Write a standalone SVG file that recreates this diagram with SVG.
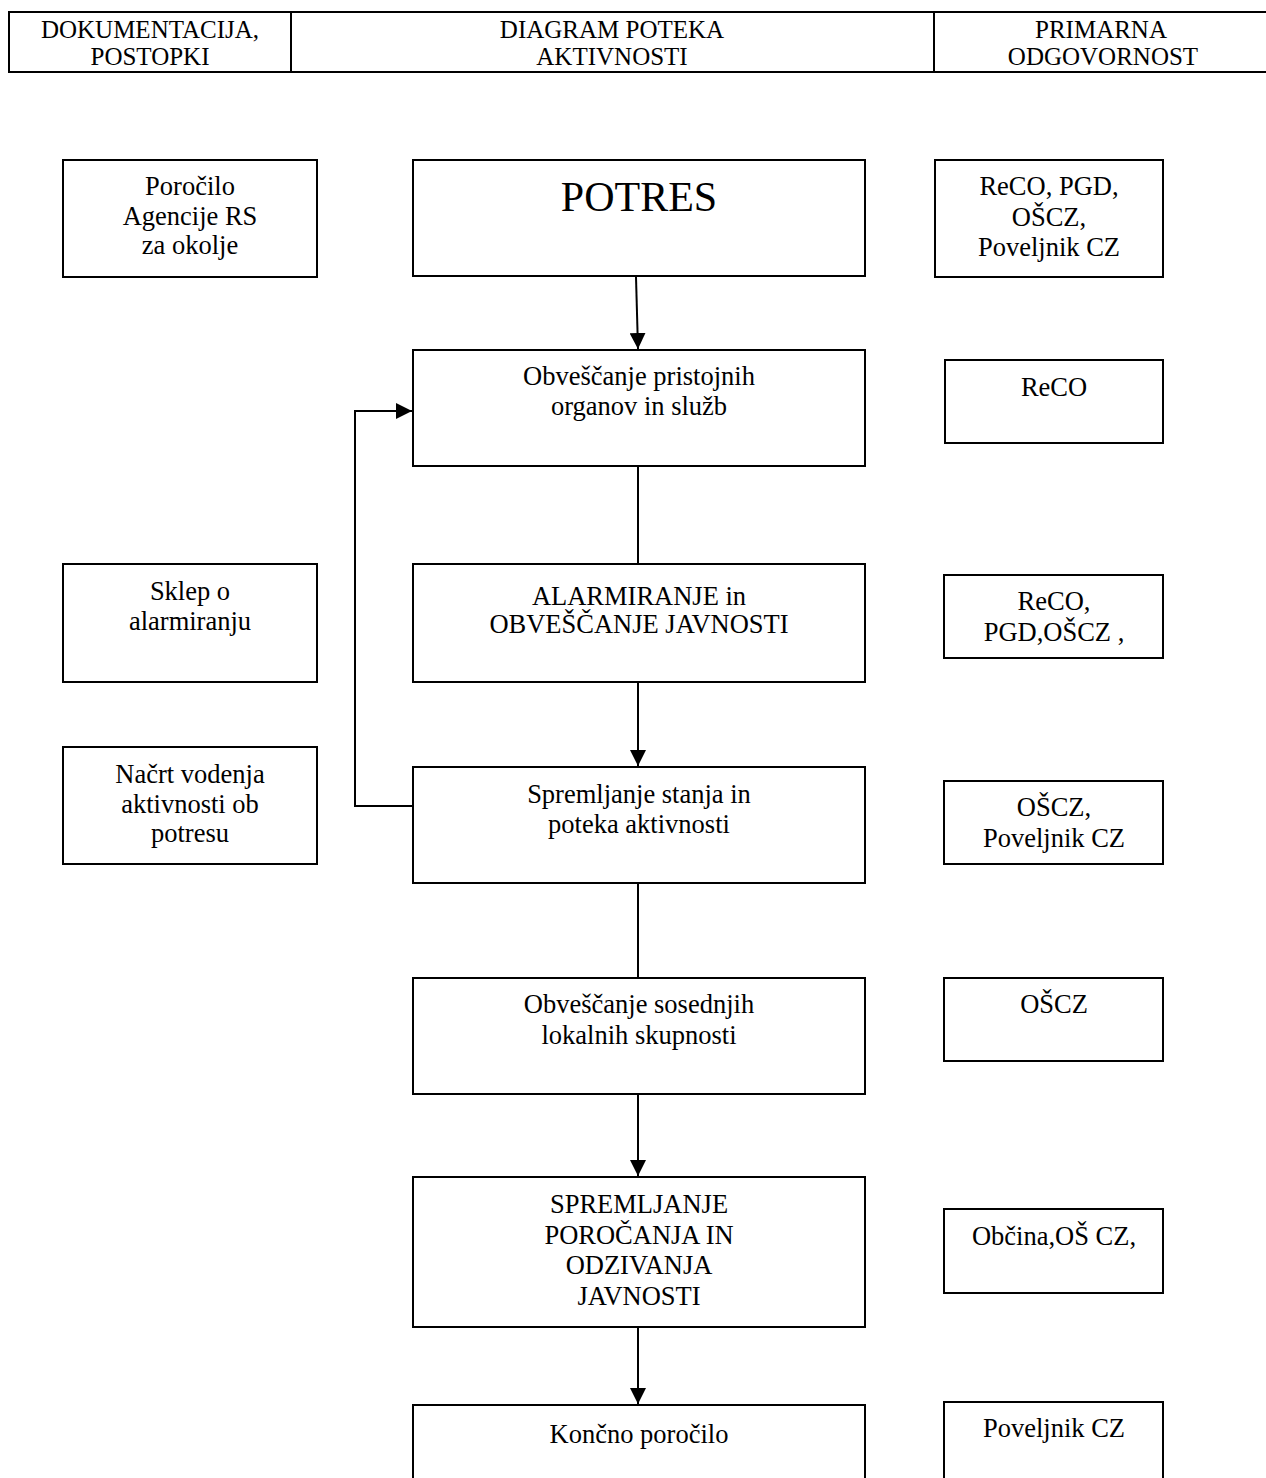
<svg xmlns="http://www.w3.org/2000/svg" width="1266" height="1478" viewBox="0 0 1266 1478">
<style>
.box{fill:#fff;stroke:#000;stroke-width:2}
.t{font-family:"Liberation Serif","Times New Roman",serif;font-size:26.5px;fill:#000;text-anchor:middle}
.h{font-family:"Liberation Serif","Times New Roman",serif;font-size:25px;fill:#000;text-anchor:middle}
.big{font-size:42px}
.c{fill:none;stroke:#000;stroke-width:2}
</style>
<defs>
<marker id="ah" viewBox="0 0 16 16" refX="16" refY="8" markerWidth="16" markerHeight="16" markerUnits="userSpaceOnUse" orient="auto">
<path d="M0,0 L16,8 L0,16 Z" fill="#000"/>
</marker>
</defs>
<rect width="1266" height="1478" fill="#fff"/>
<g id="header">
<line x1="8" y1="12" x2="1266" y2="12" class="c"/>
<line x1="8" y1="72" x2="1266" y2="72" class="c" stroke-width="2.5"/>
<line x1="9" y1="12" x2="9" y2="72" class="c"/>
<line x1="291" y1="12" x2="291" y2="72" class="c"/>
<line x1="934" y1="12" x2="934" y2="72" class="c"/>
<text class="h" x="150" y="38">DOKUMENTACIJA,</text>
<text class="h" x="150" y="65">POSTOPKI</text>
<text class="h" x="612" y="38">DIAGRAM POTEKA</text>
<text class="h" x="612" y="65">AKTIVNOSTI</text>
<text class="h" x="1101" y="38">PRIMARNA</text>
<text class="h" x="1103" y="65">ODGOVORNOST</text>
</g>
<g id="connectors">
<line x1="636" y1="277" x2="638" y2="349" class="c" marker-end="url(#ah)"/>
<line x1="638" y1="466" x2="638" y2="564" class="c"/>
<line x1="638" y1="682" x2="638" y2="766" class="c" marker-end="url(#ah)"/>
<line x1="638" y1="883" x2="638" y2="978" class="c"/>
<line x1="638" y1="1094" x2="638" y2="1176" class="c" marker-end="url(#ah)"/>
<line x1="638" y1="1327" x2="638" y2="1404" class="c" marker-end="url(#ah)"/>
<polyline points="413,806 355,806 355,411 412,411" class="c" marker-end="url(#ah)"/>
</g>
<g id="doc1"><rect class="box" x="63" y="160" width="254" height="117"/>
<text class="t" x="190" y="195">Poročilo</text><text class="t" x="190" y="225">Agencije RS</text><text class="t" x="190" y="254">za okolje</text></g>
<g id="potres"><rect class="box" x="413" y="160" width="452" height="116"/>
<text class="t big" x="639" y="211">POTRES</text></g>
<g id="resp1"><rect class="box" x="935" y="160" width="228" height="117"/>
<text class="t" x="1049" y="195">ReCO, PGD,</text><text class="t" x="1049" y="226">OŠCZ,</text><text class="t" x="1049" y="256">Poveljnik CZ</text></g>
<g id="step1"><rect class="box" x="413" y="350" width="452" height="116"/>
<text class="t" x="639" y="385">Obveščanje pristojnih</text><text class="t" x="639" y="415">organov in služb</text></g>
<g id="resp2"><rect class="box" x="945" y="360" width="218" height="83"/>
<text class="t" x="1054" y="396">ReCO</text></g>
<g id="doc2"><rect class="box" x="63" y="564" width="254" height="118"/>
<text class="t" x="190" y="600">Sklep o</text><text class="t" x="190" y="630">alarmiranju</text></g>
<g id="step2"><rect class="box" x="413" y="564" width="452" height="118"/>
<text class="t" x="639" y="605">ALARMIRANJE in</text><text class="t" x="639" y="633">OBVEŠČANJE JAVNOSTI</text></g>
<g id="resp3"><rect class="box" x="944" y="575" width="219" height="83"/>
<text class="t" x="1054" y="610">ReCO,</text><text class="t" x="1054" y="641">PGD,OŠCZ ,</text></g>
<g id="doc3"><rect class="box" x="63" y="747" width="254" height="117"/>
<text class="t" x="190" y="783">Načrt vodenja</text><text class="t" x="190" y="813">aktivnosti ob</text><text class="t" x="190" y="842">potresu</text></g>
<g id="step3"><rect class="box" x="413" y="767" width="452" height="116"/>
<text class="t" x="639" y="803">Spremljanje stanja in</text><text class="t" x="639" y="833">poteka aktivnosti</text></g>
<g id="resp4"><rect class="box" x="944" y="781" width="219" height="83"/>
<text class="t" x="1054" y="816">OŠCZ,</text><text class="t" x="1054" y="847">Poveljnik CZ</text></g>
<g id="step4"><rect class="box" x="413" y="978" width="452" height="116"/>
<text class="t" x="639" y="1013">Obveščanje sosednjih</text><text class="t" x="639" y="1044">lokalnih skupnosti</text></g>
<g id="resp5"><rect class="box" x="944" y="978" width="219" height="83"/>
<text class="t" x="1054" y="1013">OŠCZ</text></g>
<g id="step5"><rect class="box" x="413" y="1177" width="452" height="150"/>
<text class="t" x="639" y="1213">SPREMLJANJE</text><text class="t" x="639" y="1244">POROČANJA IN</text><text class="t" x="639" y="1274">ODZIVANJA</text><text class="t" x="639" y="1305">JAVNOSTI</text></g>
<g id="resp6"><rect class="box" x="944" y="1209" width="219" height="84"/>
<text class="t" x="1054" y="1245">Občina,OŠ CZ,</text></g>
<g id="step6"><rect class="box" x="413" y="1405" width="452" height="100"/>
<text class="t" x="639" y="1443">Končno poročilo</text></g>
<g id="resp7"><rect class="box" x="944" y="1402" width="219" height="100"/>
<text class="t" x="1054" y="1437">Poveljnik CZ</text></g>
</svg>
